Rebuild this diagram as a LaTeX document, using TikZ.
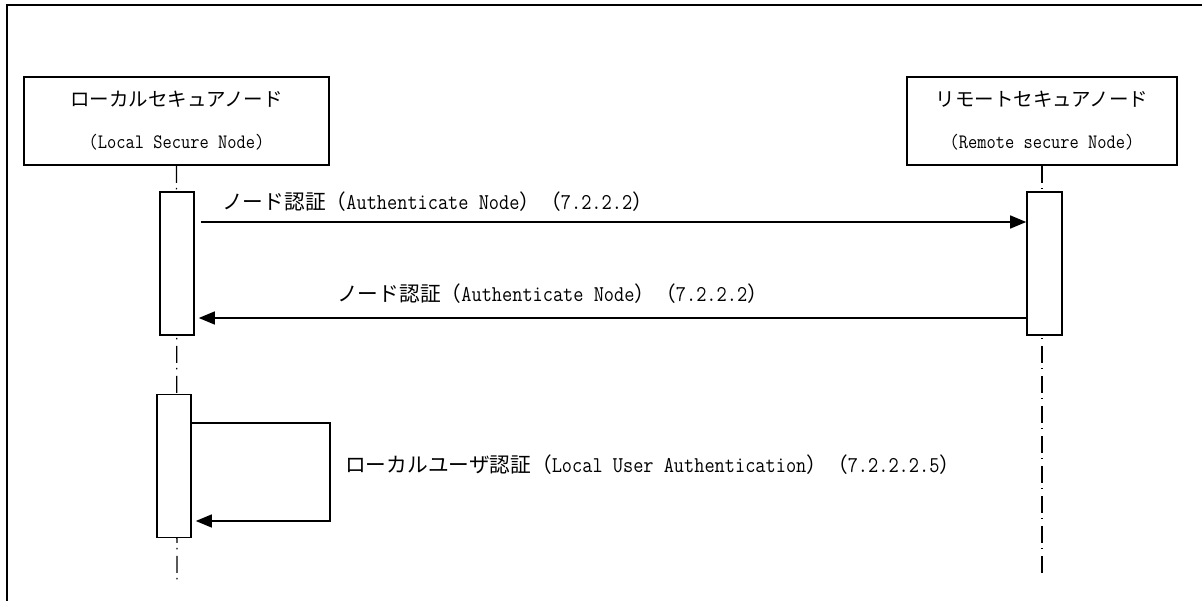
\documentclass[tikz,border=0pt]{standalone}
\usepackage{fontspec}
\setmainfont{Latin Modern Mono}[FakeStretch=0.875]
\newfontfamily\jpfont{Noto Sans CJK JP}
\newcommand\JA[1]{{\fontsize{19.5}{42}\jpfont #1}}
\newcommand\JB[1]{{\fontsize{20.7}{24}\jpfont #1}}
\usetikzlibrary{arrows.meta}
\tikzset{
  actor/.style={draw, line width=1.6pt, minimum width=305pt, minimum height=88pt, align=center, inner sep=0pt,
    font=\fontsize{20.5}{42}\selectfont},
  actbox/.style={draw, line width=1.6pt, fill=white, minimum width=34pt, minimum height=143pt, inner sep=0pt},
  life/.style={line width=1.4pt, dash pattern=on 17pt off 5pt on 1.5pt off 6.5pt},
  msg/.style={line width=1.4pt, -{Triangle[length=16pt,width=13pt]}},
  lbl/.style={anchor=west, inner sep=0pt, font=\fontsize{22.6}{24}\selectfont},
  frame/.style={line width=2pt}
}
\begin{document}
\begin{tikzpicture}[x=1pt,y=-1pt]
\useasboundingbox (0,0) rectangle (1202,601);
\coordinate (fbl) at (7,601);
\coordinate (ftl) at (7,5);
\coordinate (ftr) at (1202,5);
\draw[frame] (fbl) -- (ftl) -- (ftr);

\node[actor] (L) at (176.5,121) {\JA{ローカルセキュアノード}\\(Local Secure Node)};
\node[actor, minimum width=270pt] (R) at (1042,121) {\JA{リモートセキュアノード}\\(Remote secure Node)};

\coordinate (Lend) at (177,582);
\coordinate (Rend) at (1042,576);
\draw[life] (L.south) -- (Lend);
\draw[life] (R.south) -- (Rend);

\node[actbox] (A1) at (177,263.5) {};
\node[actbox, minimum width=35pt] (B1) at (1044.5,263.5) {};
\node[actbox] (A2) at (174,466) {};

\coordinate (y1) at (0,222);
\coordinate (y2) at (0,318);
\coordinate (y3) at (0,423);
\coordinate (y4) at (0,521);
\coordinate (sx) at (330,0);

\draw[msg] ([xshift=6pt]A1.east |- y1) -- (B1.west |- y1);
\draw[msg] (B1.west |- y2) -- ([xshift=4pt]A1.east |- y2);
\draw[msg] (A2.east |- y3) -- (sx |- y3) -- (sx |- y4) -- ([xshift=4pt]A2.east |- y4);

\node[lbl] (m1) at (222,202) {\JB{ノード認証（}Authenticate Node\JB{）（}7.2.2.2\JB{）}};
\node[lbl] (m2) at (337,294) {\JB{ノード認証（}Authenticate Node\JB{）（}7.2.2.2\JB{）}};
\node[lbl] (m3) at (345,465) {\JB{ローカルユーザ認証（}Local User Authentication\JB{）（}7.2.2.2.5\JB{）}};
\end{tikzpicture}
\end{document}
